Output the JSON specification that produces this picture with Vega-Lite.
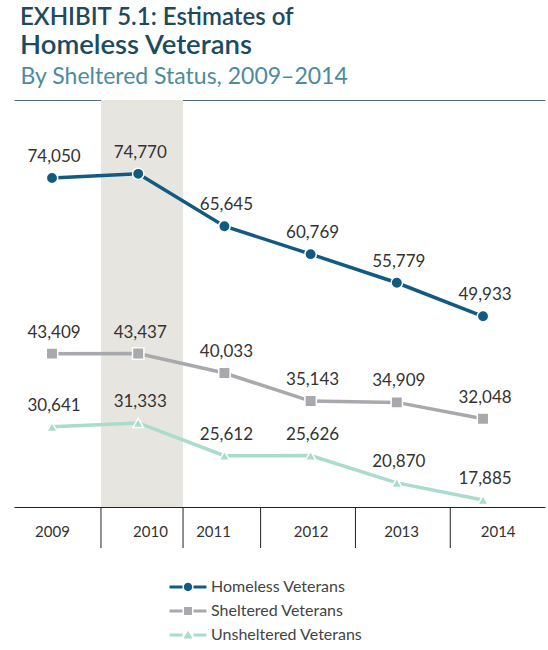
{
  "$schema": "https://vega.github.io/schema/vega-lite/v6.json",
  "autosize": "none",
  "width": 531,
  "height": 407,
  "padding": {"left": 14, "top": 100, "right": 3, "bottom": 143},
  "background": "white",
  "config": {"view": {"stroke": null}, "font": "Lato"},
  "title": {
    "text": "EXHIBIT 5.1: Estimates of",
    "subtitle": "Homeless Veterans",
    "anchor": "start",
    "font": "Lato",
    "fontSize": 24,
    "fontWeight": 600,
    "color": "#1d4a5c",
    "subtitleFont": "Lato",
    "subtitleFontSize": 27.5,
    "subtitleFontWeight": 600,
    "subtitleColor": "#1a4c61",
    "subtitlePadding": 2,
    "offset": 6,
    "dx": 6
  },
  "resolve": {"axis": {"x": "independent"}},
  "datasets": {
    "series": [
      {"year": 2009, "series": "Homeless Veterans", "value": 74050},
      {"year": 2010, "series": "Homeless Veterans", "value": 74770},
      {"year": 2011, "series": "Homeless Veterans", "value": 65645},
      {"year": 2012, "series": "Homeless Veterans", "value": 60769},
      {"year": 2013, "series": "Homeless Veterans", "value": 55779},
      {"year": 2014, "series": "Homeless Veterans", "value": 49933},
      {"year": 2009, "series": "Sheltered Veterans", "value": 43409},
      {"year": 2010, "series": "Sheltered Veterans", "value": 43437},
      {"year": 2011, "series": "Sheltered Veterans", "value": 40033},
      {"year": 2012, "series": "Sheltered Veterans", "value": 35143},
      {"year": 2013, "series": "Sheltered Veterans", "value": 34909},
      {"year": 2014, "series": "Sheltered Veterans", "value": 32048},
      {"year": 2009, "series": "Unsheltered Veterans", "value": 30641},
      {"year": 2010, "series": "Unsheltered Veterans", "value": 31333},
      {"year": 2011, "series": "Unsheltered Veterans", "value": 25612},
      {"year": 2012, "series": "Unsheltered Veterans", "value": 25626},
      {"year": 2013, "series": "Unsheltered Veterans", "value": 20870},
      {"year": 2014, "series": "Unsheltered Veterans", "value": 17885}
    ],
    "band": [{"start": 2009.568, "end": 2010.52}],
    "dividers": [
      {"pos": 2009.568},
      {"pos": 2010.52},
      {"pos": 2011.42},
      {"pos": 2012.52},
      {"pos": 2013.62}
    ]
  },
  "data": {"name": "series"},
  "layer": [
    {
      "data": {"name": "band"},
      "mark": {"type": "rect", "color": "#e7e5e0"},
      "encoding": {
        "x": {"field": "start", "type": "quantitative", "scale": {"domain": [2008.559, 2014.719], "nice": false, "zero": false},
          "axis": {"values": [2009, 2010.137, 2010.868, 2012.0, 2013.05, 2014.17], "labelExpr": "format(round(datum.value), 'd')",
            "title": null, "grid": false, "ticks": false,
            "domainColor": "#222222", "domainWidth": 1, "labelFont": "Lato", "labelFontSize": 15, "labelFontWeight": 400, "labelColor": "#333333", "labelPadding": 17}},
        "x2": {"field": "end"}
      }
    },
    {
      "data": {"name": "dividers"},
      "mark": {"type": "rule", "color": "#222222", "strokeWidth": 1},
      "encoding": {
        "x": {"field": "pos", "type": "quantitative",
          "axis": {"orient": "top", "labels": false, "ticks": false, "grid": false, "domain": true, "domainColor": "#4f6b77", "domainWidth": 1.2,
            "title": "By Sheltered Status, 2009–2014", "titleFont": "Lato", "titleFontSize": 23, "titleFontWeight": 400, "titleColor": "#4d8b9b",
            "titleAnchor": "start", "titleAlign": "left", "titleBaseline": "alphabetic", "titleX": 6, "titleY": -17}},
        "y": {"datum": 16662, "type": "quantitative", "scale": {"domain": [16662, 87655], "nice": false, "zero": false}, "axis": null},
        "y2": {"datum": 9510}
      }
    },
    {
      "transform": [{"filter": "datum.series === 'Homeless Veterans'"}],
      "mark": {"type": "line", "strokeWidth": 3.5, "color": "#115b80"},
      "encoding": {
        "x": {"field": "year", "type": "quantitative", "axis": null},
        "y": {"field": "value", "type": "quantitative"}
      }
    },
    {
      "transform": [{"filter": "datum.series === 'Sheltered Veterans'"}],
      "mark": {"type": "line", "strokeWidth": 3.5, "color": "#a7a9ac"},
      "encoding": {
        "x": {"field": "year", "type": "quantitative", "axis": null},
        "y": {"field": "value", "type": "quantitative"}
      }
    },
    {
      "transform": [{"filter": "datum.series === 'Unsheltered Veterans'"}],
      "mark": {"type": "line", "strokeWidth": 3.5, "color": "#a9dccd"},
      "encoding": {
        "x": {"field": "year", "type": "quantitative", "axis": null},
        "y": {"field": "value", "type": "quantitative"}
      }
    },
    {
      "transform": [{"filter": "datum.series === 'Homeless Veterans'"}],
      "mark": {"type": "point", "shape": "circle", "filled": true, "size": 130, "stroke": "white", "strokeWidth": 1.5, "fill": "#115b80", "opacity": 1},
      "encoding": {
        "x": {"field": "year", "type": "quantitative", "axis": null},
        "y": {"field": "value", "type": "quantitative"}
      }
    },
    {
      "transform": [{"filter": "datum.series === 'Sheltered Veterans'"}],
      "mark": {"type": "point", "shape": "square", "filled": true, "size": 130, "stroke": "white", "strokeWidth": 1.5, "fill": "#a7a9ac", "opacity": 1},
      "encoding": {
        "x": {"field": "year", "type": "quantitative", "axis": null},
        "y": {"field": "value", "type": "quantitative"}
      }
    },
    {
      "transform": [{"filter": "datum.series === 'Unsheltered Veterans'"}],
      "mark": {"type": "point", "shape": "triangle-up", "filled": true, "size": 110, "stroke": "white", "strokeWidth": 1.5, "fill": "#a9dccd", "opacity": 1},
      "encoding": {
        "x": {"field": "year", "type": "quantitative", "axis": null},
        "y": {"field": "value", "type": "quantitative"}
      }
    },
    {
      "mark": {"type": "text", "font": "Lato", "fontSize": 17, "color": "#333333", "baseline": "middle", "align": "center", "dy": -21, "dx": 2},
      "encoding": {
        "x": {"field": "year", "type": "quantitative", "axis": null},
        "y": {"field": "value", "type": "quantitative"},
        "text": {"field": "value", "type": "quantitative", "format": ","}
      }
    },
    {
      "transform": [{"filter": "false"}],
      "mark": {"type": "point", "filled": true, "opacity": 1},
      "encoding": {
        "x": {"field": "year", "type": "quantitative", "axis": null},
        "y": {"field": "value", "type": "quantitative"},
        "color": {"field": "series", "type": "nominal",
          "scale": {"domain": ["Homeless Veterans", "Sheltered Veterans", "Unsheltered Veterans"], "range": ["#115b80", "#a7a9ac", "#a9dccd"]},
          "legend": {"title": null, "orient": "none", "legendX": 163, "legendY": 476, "symbolSize": 484, "symbolStrokeWidth": 0,
            "labelFont": "Lato", "labelFontSize": 16, "labelColor": "#444444", "labelOffset": 12, "rowPadding": 5}},
        "shape": {"field": "series", "type": "nominal",
          "scale": {"domain": ["Homeless Veterans", "Sheltered Veterans", "Unsheltered Veterans"],
            "range": [
              "M-1.68,-0.13H-0.5V0.13H-1.68Z M0.5,-0.13H1.68V0.13H0.5Z M-0.38,0A0.38,0.38 0 1,0 0.38,0A0.38,0.38 0 1,0 -0.38,0Z",
              "M-1.68,-0.13H-0.5V0.13H-1.68Z M0.5,-0.13H1.68V0.13H0.5Z M-0.36,-0.36H0.36V0.36H-0.36Z",
              "M-1.68,-0.13H-0.5V0.13H-1.68Z M0.5,-0.13H1.68V0.13H0.5Z M-0.42,0.32L0,-0.38L0.42,0.32Z"
            ]},
          "legend": {"title": null, "orient": "none", "legendX": 163, "legendY": 476, "symbolSize": 484, "symbolStrokeWidth": 0,
            "labelFont": "Lato", "labelFontSize": 16, "labelColor": "#444444", "labelOffset": 12, "rowPadding": 5}}
      }
    }
  ]
}
